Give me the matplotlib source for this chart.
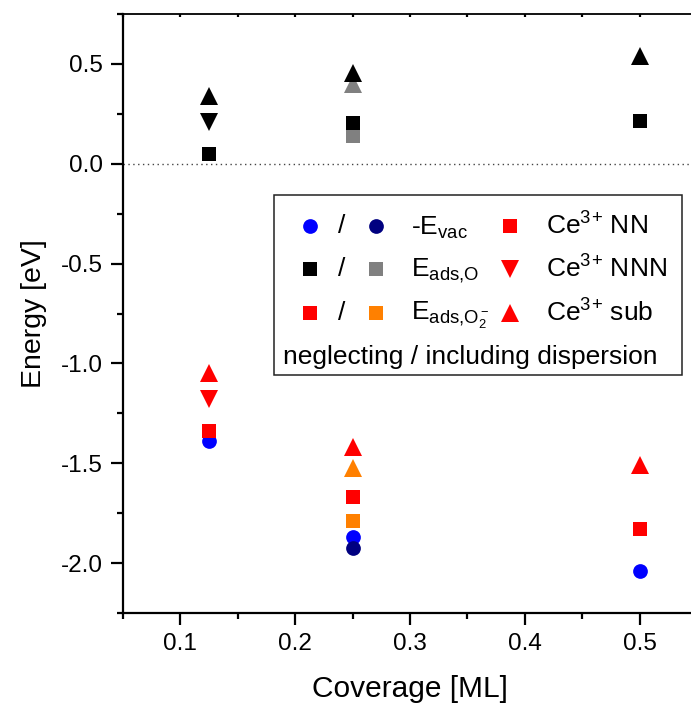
import matplotlib
matplotlib.use('Agg')
import matplotlib.pyplot as plt
from matplotlib.lines import Line2D
from matplotlib.patches import Rectangle
from matplotlib.ticker import MultipleLocator

plt.rcParams['font.family'] = ['Liberation Sans', 'DejaVu Sans']
plt.rcParams['mathtext.default'] = 'regular'

# -E_vac (circles)
evac_x = [0.125, 0.25, 0.5]
evac_y = [-1.39, -1.87, -2.04]
evac_disp_x = [0.25]
evac_disp_y = [-1.925]

# E_ads,O (black = neglecting, gray = including dispersion)
o_nn_x = [0.125, 0.25, 0.5]
o_nn_y = [0.05, 0.205, 0.215]
o_nnn_x = [0.125]
o_nnn_y = [0.21]
o_sub_x = [0.125, 0.25, 0.5]
o_sub_y = [0.34, 0.455, 0.54]
o_disp_nn_x = [0.25]
o_disp_nn_y = [0.14]
o_disp_sub_x = [0.25]
o_disp_sub_y = [0.40]

# E_ads,O2- (red = neglecting, orange = including dispersion)
o2_nn_x = [0.125, 0.25, 0.5]
o2_nn_y = [-1.34, -1.67, -1.83]
o2_nnn_x = [0.125]
o2_nnn_y = [-1.18]
o2_sub_x = [0.125, 0.25, 0.5]
o2_sub_y = [-1.05, -1.42, -1.51]
o2_disp_nn_x = [0.25]
o2_disp_nn_y = [-1.79]
o2_disp_sub_x = [0.25]
o2_disp_sub_y = [-1.525]

W, H = 691, 708
fig = plt.figure(figsize=(W / 100, H / 100), dpi=100)
# axes runs past the right edge of the figure, like the original
ax = fig.add_axes([123 / W, 1 - 613 / H, 574 / W, 599 / H])

def pts(x, y, m, c, ms):
    ax.plot(x, y, linestyle='none', marker=m, color=c, ms=ms, mew=0, zorder=3)

SQ, CI, TR = 9.4, 10.6, 12.5
pts(evac_x, evac_y, 'o', '#0000ff', CI)
pts(evac_disp_x, evac_disp_y, 'o', '#000080', CI)
pts(o_disp_nn_x, o_disp_nn_y, 's', '#808080', SQ)
pts(o_disp_sub_x, o_disp_sub_y, '^', '#808080', TR)
pts(o_nn_x, o_nn_y, 's', 'black', SQ)
pts(o_nnn_x, o_nnn_y, 'v', 'black', TR)
pts(o_sub_x, o_sub_y, '^', 'black', TR)
pts(o2_disp_nn_x, o2_disp_nn_y, 's', '#ff8000', SQ)
pts(o2_disp_sub_x, o2_disp_sub_y, '^', '#ff8000', TR)
pts(o2_nn_x, o2_nn_y, 's', '#ff0000', SQ)
pts(o2_nnn_x, o2_nnn_y, 'v', '#ff0000', TR)
pts(o2_sub_x, o2_sub_y, '^', '#ff0000', TR)

ax.axhline(0, color='#444444', lw=1, ls=(0, (1, 2.5)), zorder=1)

ax.set_xlim(0.05, 0.55)
ax.set_ylim(-2.25, 0.75)
ax.xaxis.set_major_locator(MultipleLocator(0.1))
ax.xaxis.set_minor_locator(MultipleLocator(0.05))
ax.yaxis.set_major_locator(MultipleLocator(0.5))
ax.yaxis.set_minor_locator(MultipleLocator(0.25))
ax.xaxis.set_major_formatter(lambda v, p: f'{v:.1f}')
ax.yaxis.set_major_formatter(lambda v, p: f'{v:.1f}')
ax.spines['right'].set_visible(False)
for s in ['left', 'bottom']:
    ax.spines[s].set_linewidth(1.6)
ax.spines['top'].set_linewidth(1.3)
ax.tick_params(which='major', direction='out', length=8.5, width=1.6, labelsize=17.5, pad=6)
ax.tick_params(which='minor', direction='out', length=4, width=1.6)
ax.tick_params(axis='x', which='both', top=True, labeltop=False)
ax.set_xlabel('Coverage [ML]', fontsize=21.5, labelpad=14)
ax.set_ylabel('Energy [eV]', fontsize=20.5, labelpad=10)
# top ticks: small, pointing down into the plot
for t in ax.xaxis.get_major_ticks() + ax.xaxis.get_minor_ticks():
    t.tick2line.set_markersize(2)
    t.tick2line.set_marker(3)

# custom legend box in pixel positions
def fx(px):
    return px / W

def fy(py):
    return 1 - py / H

fig.add_artist(Rectangle((fx(274), fy(375)), fx(682) - fx(274), fy(195) - fy(375),
                         transform=fig.transFigure, fill=False, ec='#222222', lw=1.1))

FS = 19
rows = [226, 269, 313]
left_cols = ['#0000ff', 'black', '#ff0000']
right_cols = ['#000080', '#808080', '#ff8000']
left_marks = ['o', 's', 's']
labels = ['-E$_{vac}$', 'E$_{ads{,}O}$', 'E$_{ads{,}O_2^-}$']
ce_marks = ['s', 'v', '^']
ce_labels = ['Ce$^{3}$$^{+}$ NN', 'Ce$^{3}$$^{+}$ NNN', 'Ce$^{3}$$^{+}$ sub']
for i, ry in enumerate(rows):
    ms = CI if left_marks[i] == 'o' else SQ
    fig.add_artist(Line2D([fx(310)], [fy(ry)], marker=left_marks[i], color=left_cols[i],
                          ms=ms, mew=0, transform=fig.transFigure))
    fig.add_artist(Line2D([fx(376)], [fy(ry)], marker=left_marks[i], color=right_cols[i],
                          ms=ms, mew=0, transform=fig.transFigure))
    fig.text(fx(342), fy(ry), '/', fontsize=FS, ha='center', va='center')
    fig.text(fx(411), fy(ry + 2), labels[i], fontsize=FS, ha='left', va='center')
    fig.add_artist(Line2D([fx(510)], [fy(ry)], marker=ce_marks[i], color='#ff0000',
                          ms=SQ if ce_marks[i] == 's' else TR, mew=0, transform=fig.transFigure))
    fig.text(fx(546), fy(ry), ce_labels[i], fontsize=FS, ha='left', va='center')
fig.text(fx(283), fy(357), 'neglecting / including dispersion', fontsize=FS, ha='left', va='center')

fig.savefig('out.png', dpi=100)
